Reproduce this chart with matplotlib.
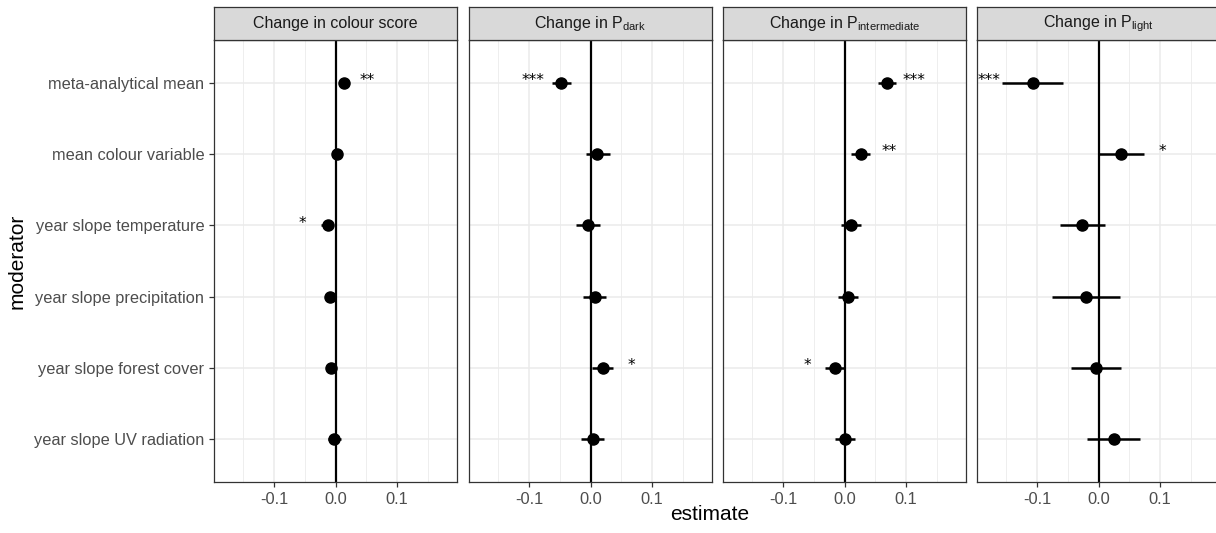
import matplotlib
matplotlib.use("Agg")
import matplotlib.pyplot as plt
from matplotlib.ticker import FixedLocator

plt.rcParams['font.family'] = ['Liberation Sans', 'DejaVu Sans']
plt.rcParams['mathtext.fontset'] = 'custom'
plt.rcParams['mathtext.rm'] = 'Liberation Sans'

moderators = ["meta-analytical mean", "mean colour variable", "year slope temperature",
              "year slope precipitation", "year slope forest cover", "year slope UV radiation"]

panel_titles = ["Change in colour score", r"Change in P$_\mathregular{dark}$",
                r"Change in P$_\mathregular{intermediate}$", r"Change in P$_\mathregular{light}$"]

# estimates per panel (order = moderators)
est_score = [0.014, 0.003, -0.012, -0.009, -0.008, -0.002]
lo_score = [0.006, -0.003, -0.023, -0.014, -0.012, -0.012]
hi_score = [0.022, 0.009, -0.004, -0.004, -0.003, 0.009]
sig_score = ["**", "", "*", "", "", ""]

est_dark = [-0.048, 0.011, -0.004, 0.007, 0.020, 0.004]
lo_dark = [-0.063, -0.008, -0.023, -0.012, 0.002, -0.015]
hi_dark = [-0.032, 0.031, 0.016, 0.025, 0.037, 0.022]
sig_dark = ["***", "", "", "", "*", ""]

est_inter = [0.069, 0.026, 0.011, 0.005, -0.016, 0.000]
lo_inter = [0.055, 0.011, -0.006, -0.011, -0.031, -0.016]
hi_inter = [0.083, 0.042, 0.027, 0.022, -0.001, 0.017]
sig_inter = ["***", "**", "", "", "*", ""]

est_light = [-0.107, 0.037, -0.026, -0.020, -0.004, 0.025]
lo_light = [-0.156, 0.001, -0.063, -0.075, -0.045, -0.018]
hi_light = [-0.057, 0.073, 0.010, 0.035, 0.037, 0.068]
sig_light = ["***", "*", "", "", "", ""]

panels = [
    (est_score, lo_score, hi_score, sig_score),
    (est_dark, lo_dark, hi_dark, sig_dark),
    (est_inter, lo_inter, hi_inter, sig_inter),
    (est_light, lo_light, hi_light, sig_light),
]

W, H = 1216, 533
fig = plt.figure(figsize=(W / 100, H / 100), dpi=100)

lefts = [214, 469, 723, 977]
pw = 243
ptop, pbot = 40, 482
strip_top = 7
xlim = (-0.197, 0.197)
star_off = 0.03
grey20 = '#333333'
n = len(moderators)
ypos = [n - i for i in range(n)]

for k, (est, lo, hi, sig) in enumerate(panels):
    l = lefts[k]
    ax = fig.add_axes([l / W, 1 - pbot / H, pw / W, (pbot - ptop) / H])
    ax.set_xlim(*xlim)
    ax.set_ylim(0.4, n + 0.6)
    ax.xaxis.set_major_locator(FixedLocator([-0.1, 0.0, 0.1]))
    ax.xaxis.set_minor_locator(FixedLocator([-0.15, -0.05, 0.05, 0.15]))
    ax.set_xticklabels(["-0.1", "0.0", "0.1"])
    ax.set_yticks(ypos)
    ax.grid(True, which='major', color='#EBEBEB', lw=1.1, zorder=0)
    ax.grid(True, which='minor', axis='x', color='#EBEBEB', lw=0.6, zorder=0)
    ax.set_axisbelow(True)
    for s in ax.spines.values():
        s.set_color(grey20)
        s.set_linewidth(0.9)
    ax.tick_params(axis='both', which='major', color=grey20, length=3.5, width=0.9,
                   labelcolor='#4D4D4D', labelsize=11.8)
    ax.tick_params(axis='x', which='minor', length=0)
    if k == 0:
        ax.set_yticklabels(moderators)
    else:
        ax.tick_params(axis='y', which='both', length=0, labelleft=False)
    ax.axvline(0, color='black', lw=1.6, zorder=2)
    ax.hlines(ypos, lo, hi, color='black', lw=1.8, zorder=3)
    ax.plot(est, ypos, 'o', color='black', ms=8, zorder=4)
    for i in range(n):
        if not sig[i]:
            continue
        if est[i] >= 0:
            x = hi[i] + star_off
        else:
            x = lo[i] - star_off
        ha = 'center'
        if x - 0.013 * len(sig[i]) < xlim[0]:
            x = xlim[0] + 0.001
            ha = 'left'
        ax.text(x, ypos[i] + 0.03, sig[i], ha=ha, va='center', fontsize=11,
                family='DejaVu Sans', color='black', zorder=5)

    sax = fig.add_axes([l / W, 1 - ptop / H, pw / W, (ptop - strip_top) / H])
    sax.set_facecolor('#D9D9D9')
    sax.set_xticks([])
    sax.set_yticks([])
    for s in sax.spines.values():
        s.set_color(grey20)
        s.set_linewidth(0.9)
    sax.text(0.5, 0.5, panel_titles[k], ha='center', va='center', fontsize=11.5,
             color='#1A1A1A', transform=sax.transAxes)

fig.text(710 / W, 1 - 515 / H, "estimate", ha='center', va='center', fontsize=15, color='black')
fig.text(17 / W, 1 - 261 / H, "moderator", ha='center', va='center', fontsize=15,
         color='black', rotation=90)

fig.savefig("out.png", dpi=100)
